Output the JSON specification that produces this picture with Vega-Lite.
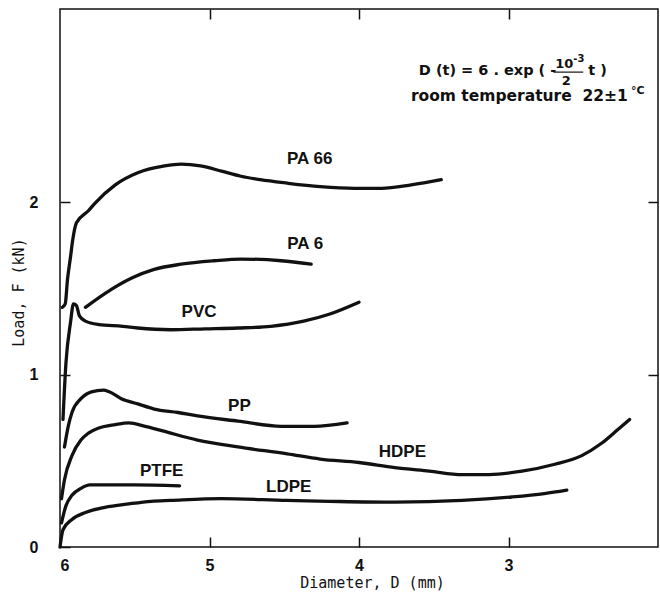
{
  "$schema": "https://vega.github.io/schema/vega-lite/v6.json",
  "width": 598,
  "height": 538,
  "autosize": {"type": "none"},
  "padding": {"left": 60, "top": 9, "right": 2, "bottom": 50},
  "background": "white",
  "config": {
    "view": {"stroke": "#111", "strokeWidth": 1.5},
    "axis": {
      "domain": false, "grid": false, "tickColor": "#111", "tickWidth": 1.5, "tickSize": -10,
      "labelColor": "#111", "labelFont": "Liberation Sans", "labelFontWeight": "bold", "labelFontSize": 16,
      "titleColor": "#111", "titleFont": "DejaVu Sans Mono", "titleFontWeight": "normal", "titleFontSize": 15
    },
    "text": {"color": "#111", "font": "DejaVu Sans", "fontWeight": "bold", "baseline": "middle"}
  },
  "datasets": {
    "curves": [
      {"m": "PA 66", "D": 5.985, "F": 1.39}, {"m": "PA 66", "D": 5.965, "F": 1.41}, {"m": "PA 66", "D": 5.95, "F": 1.55},
      {"m": "PA 66", "D": 5.93, "F": 1.68}, {"m": "PA 66", "D": 5.915, "F": 1.78}, {"m": "PA 66", "D": 5.89, "F": 1.88},
      {"m": "PA 66", "D": 5.81, "F": 1.95}, {"m": "PA 66", "D": 5.77, "F": 1.99}, {"m": "PA 66", "D": 5.63, "F": 2.10},
      {"m": "PA 66", "D": 5.48, "F": 2.17}, {"m": "PA 66", "D": 5.30, "F": 2.21}, {"m": "PA 66", "D": 5.19, "F": 2.22},
      {"m": "PA 66", "D": 5.06, "F": 2.21}, {"m": "PA 66", "D": 4.92, "F": 2.18}, {"m": "PA 66", "D": 4.79, "F": 2.15},
      {"m": "PA 66", "D": 4.66, "F": 2.13}, {"m": "PA 66", "D": 4.48, "F": 2.11}, {"m": "PA 66", "D": 4.26, "F": 2.09},
      {"m": "PA 66", "D": 4.03, "F": 2.08}, {"m": "PA 66", "D": 3.85, "F": 2.08}, {"m": "PA 66", "D": 3.65, "F": 2.10},
      {"m": "PA 66", "D": 3.45, "F": 2.13},

      {"m": "PA 6", "D": 5.83, "F": 1.39}, {"m": "PA 6", "D": 5.70, "F": 1.47}, {"m": "PA 6", "D": 5.52, "F": 1.56},
      {"m": "PA 6", "D": 5.37, "F": 1.61}, {"m": "PA 6", "D": 5.19, "F": 1.64}, {"m": "PA 6", "D": 4.97, "F": 1.66},
      {"m": "PA 6", "D": 4.79, "F": 1.67}, {"m": "PA 6", "D": 4.52, "F": 1.66}, {"m": "PA 6", "D": 4.32, "F": 1.64},

      {"m": "PVC", "D": 5.98, "F": 0.74}, {"m": "PVC", "D": 5.96, "F": 1.07}, {"m": "PVC", "D": 5.93, "F": 1.30},
      {"m": "PVC", "D": 5.91, "F": 1.41}, {"m": "PVC", "D": 5.89, "F": 1.40}, {"m": "PVC", "D": 5.87, "F": 1.34},
      {"m": "PVC", "D": 5.83, "F": 1.31}, {"m": "PVC", "D": 5.74, "F": 1.29}, {"m": "PVC", "D": 5.58, "F": 1.28},
      {"m": "PVC", "D": 5.48, "F": 1.27}, {"m": "PVC", "D": 5.26, "F": 1.26}, {"m": "PVC", "D": 5.03, "F": 1.265},
      {"m": "PVC", "D": 4.81, "F": 1.27}, {"m": "PVC", "D": 4.59, "F": 1.28}, {"m": "PVC", "D": 4.37, "F": 1.31},
      {"m": "PVC", "D": 4.20, "F": 1.35}, {"m": "PVC", "D": 4.00, "F": 1.42},

      {"m": "PP", "D": 5.97, "F": 0.58}, {"m": "PP", "D": 5.945, "F": 0.70}, {"m": "PP", "D": 5.92, "F": 0.78},
      {"m": "PP", "D": 5.86, "F": 0.86}, {"m": "PP", "D": 5.79, "F": 0.90}, {"m": "PP", "D": 5.71, "F": 0.91},
      {"m": "PP", "D": 5.67, "F": 0.90}, {"m": "PP", "D": 5.59, "F": 0.86}, {"m": "PP", "D": 5.48, "F": 0.83},
      {"m": "PP", "D": 5.37, "F": 0.80}, {"m": "PP", "D": 5.21, "F": 0.78}, {"m": "PP", "D": 5.08, "F": 0.76},
      {"m": "PP", "D": 4.81, "F": 0.73}, {"m": "PP", "D": 4.52, "F": 0.70}, {"m": "PP", "D": 4.30, "F": 0.70},
      {"m": "PP", "D": 4.08, "F": 0.72},

      {"m": "HDPE", "D": 5.99, "F": 0.28}, {"m": "HDPE", "D": 5.97, "F": 0.39}, {"m": "HDPE", "D": 5.92, "F": 0.53},
      {"m": "HDPE", "D": 5.86, "F": 0.62}, {"m": "HDPE", "D": 5.81, "F": 0.66}, {"m": "HDPE", "D": 5.74, "F": 0.69},
      {"m": "HDPE", "D": 5.63, "F": 0.71}, {"m": "HDPE", "D": 5.54, "F": 0.72}, {"m": "HDPE", "D": 5.43, "F": 0.70},
      {"m": "HDPE", "D": 5.30, "F": 0.67}, {"m": "HDPE", "D": 5.08, "F": 0.62}, {"m": "HDPE", "D": 4.81, "F": 0.58},
      {"m": "HDPE", "D": 4.48, "F": 0.54}, {"m": "HDPE", "D": 4.26, "F": 0.51}, {"m": "HDPE", "D": 4.00, "F": 0.49},
      {"m": "HDPE", "D": 3.76, "F": 0.46}, {"m": "HDPE", "D": 3.53, "F": 0.44}, {"m": "HDPE", "D": 3.31, "F": 0.42},
      {"m": "HDPE", "D": 3.13, "F": 0.42}, {"m": "HDPE", "D": 2.91, "F": 0.44}, {"m": "HDPE", "D": 2.69, "F": 0.48},
      {"m": "HDPE", "D": 2.51, "F": 0.53}, {"m": "HDPE", "D": 2.38, "F": 0.60}, {"m": "HDPE", "D": 2.27, "F": 0.68},
      {"m": "HDPE", "D": 2.19, "F": 0.74},

      {"m": "PTFE", "D": 5.99, "F": 0.14}, {"m": "PTFE", "D": 5.96, "F": 0.24}, {"m": "PTFE", "D": 5.92, "F": 0.30},
      {"m": "PTFE", "D": 5.86, "F": 0.34}, {"m": "PTFE", "D": 5.80, "F": 0.36}, {"m": "PTFE", "D": 5.70, "F": 0.36},
      {"m": "PTFE", "D": 5.50, "F": 0.36}, {"m": "PTFE", "D": 5.20, "F": 0.355},

      {"m": "LDPE", "D": 6.0, "F": 0.0}, {"m": "LDPE", "D": 5.98, "F": 0.10}, {"m": "LDPE", "D": 5.92, "F": 0.16},
      {"m": "LDPE", "D": 5.83, "F": 0.20}, {"m": "LDPE", "D": 5.70, "F": 0.23}, {"m": "LDPE", "D": 5.54, "F": 0.25},
      {"m": "LDPE", "D": 5.39, "F": 0.265}, {"m": "LDPE", "D": 5.26, "F": 0.27}, {"m": "LDPE", "D": 4.92, "F": 0.28},
      {"m": "LDPE", "D": 4.48, "F": 0.27}, {"m": "LDPE", "D": 4.20, "F": 0.265}, {"m": "LDPE", "D": 3.76, "F": 0.26},
      {"m": "LDPE", "D": 3.31, "F": 0.27}, {"m": "LDPE", "D": 2.98, "F": 0.29}, {"m": "LDPE", "D": 2.76, "F": 0.31},
      {"m": "LDPE", "D": 2.61, "F": 0.33}
    ],
    "labels": [
      {"m": "PA 66", "D": 4.33, "F": 2.25},
      {"m": "PA 6", "D": 4.36, "F": 1.76},
      {"m": "PVC", "D": 5.07, "F": 1.36},
      {"m": "PP", "D": 4.80, "F": 0.82},
      {"m": "HDPE", "D": 3.71, "F": 0.55},
      {"m": "PTFE", "D": 5.32, "F": 0.44},
      {"m": "LDPE", "D": 4.47, "F": 0.35}
    ],
    "one": [{"k": 1}]
  },
  "layer": [
    {
      "data": {"name": "curves"},
      "mark": {"type": "line", "color": "#111", "strokeWidth": 3.3, "interpolate": "monotone", "strokeCap": "round", "strokeJoin": "round"},
      "encoding": {
        "x": {
          "field": "D", "type": "quantitative",
          "scale": {"domain": [2, 6], "reverse": true, "nice": false, "zero": false},
          "axis": {"orient": "bottom", "values": [6, 5, 4, 3], "labelPadding": 20, "title": "Diameter, D (mm)",
                   "titleX": 312, "titleY": 35, "titleBaseline": "middle", "titleAlign": "center"}
        },
        "y": {
          "field": "F", "type": "quantitative",
          "scale": {"domain": [0, 3.12], "nice": false, "zero": false},
          "axis": {"orient": "left", "values": [0, 1, 2], "labelPadding": 32, "title": "Load, F (kN)",
                   "titleX": -42, "titleY": 283, "titleBaseline": "middle", "titleAlign": "center", "titleAngle": -90}
        },
        "detail": {"field": "m"},
        "order": {"field": "D", "sort": "descending"}
      }
    },
    {
      "data": {"name": "labels"},
      "mark": {"type": "text", "font": "Liberation Sans", "fontWeight": "bold", "fontSize": 17, "align": "center"},
      "encoding": {
        "x": {"field": "D", "type": "quantitative", "axis": {"orient": "top", "values": [5, 4, 3], "labels": false, "title": null}},
        "y": {"field": "F", "type": "quantitative", "axis": {"orient": "right", "values": [1, 2], "labels": false, "title": null}},
        "text": {"field": "m"}
      }
    },
    {
      "data": {"name": "one"},
      "mark": {"type": "text", "text": "D (t) = 6 . exp ( -", "fontSize": 14.5, "align": "left"},
      "encoding": {"x": {"datum": 3.6, "type": "quantitative", "axis": null}, "y": {"datum": 2.759, "type": "quantitative", "axis": null}}
    },
    {
      "data": {"name": "one"},
      "mark": {"type": "text", "text": "10", "fontSize": 13, "align": "center"},
      "encoding": {"x": {"datum": 2.627, "type": "quantitative", "axis": null}, "y": {"datum": 2.80, "type": "quantitative", "axis": null}}
    },
    {
      "data": {"name": "one"},
      "mark": {"type": "text", "text": "-3", "fontSize": 10, "align": "left"},
      "encoding": {"x": {"datum": 2.567, "type": "quantitative", "axis": null}, "y": {"datum": 2.829, "type": "quantitative", "axis": null}}
    },
    {
      "data": {"name": "one"},
      "mark": {"type": "rule", "color": "#111", "strokeWidth": 1.2},
      "encoding": {
        "x": {"datum": 2.70, "type": "quantitative", "axis": null},
        "x2": {"datum": 2.50},
        "y": {"datum": 2.754, "type": "quantitative", "axis": null}
      }
    },
    {
      "data": {"name": "one"},
      "mark": {"type": "text", "text": "2", "fontSize": 13, "align": "center"},
      "encoding": {"x": {"datum": 2.613, "type": "quantitative", "axis": null}, "y": {"datum": 2.703, "type": "quantitative", "axis": null}}
    },
    {
      "data": {"name": "one"},
      "mark": {"type": "text", "text": "t )", "fontSize": 14.5, "align": "left"},
      "encoding": {"x": {"datum": 2.467, "type": "quantitative", "axis": null}, "y": {"datum": 2.759, "type": "quantitative", "axis": null}}
    },
    {
      "data": {"name": "one"},
      "mark": {"type": "text", "text": "room temperature\u00a0\u00a022±1", "fontSize": 15.5, "align": "left"},
      "encoding": {"x": {"datum": 3.653, "type": "quantitative", "axis": null}, "y": {"datum": 2.614, "type": "quantitative", "axis": null}}
    },
    {
      "data": {"name": "one"},
      "mark": {"type": "text", "text": "°C", "fontSize": 11, "align": "left"},
      "encoding": {"x": {"datum": 2.18, "type": "quantitative", "axis": null}, "y": {"datum": 2.646, "type": "quantitative", "axis": null}}
    }
  ],
  "resolve": {"axis": {"x": "independent", "y": "independent"}}
}
